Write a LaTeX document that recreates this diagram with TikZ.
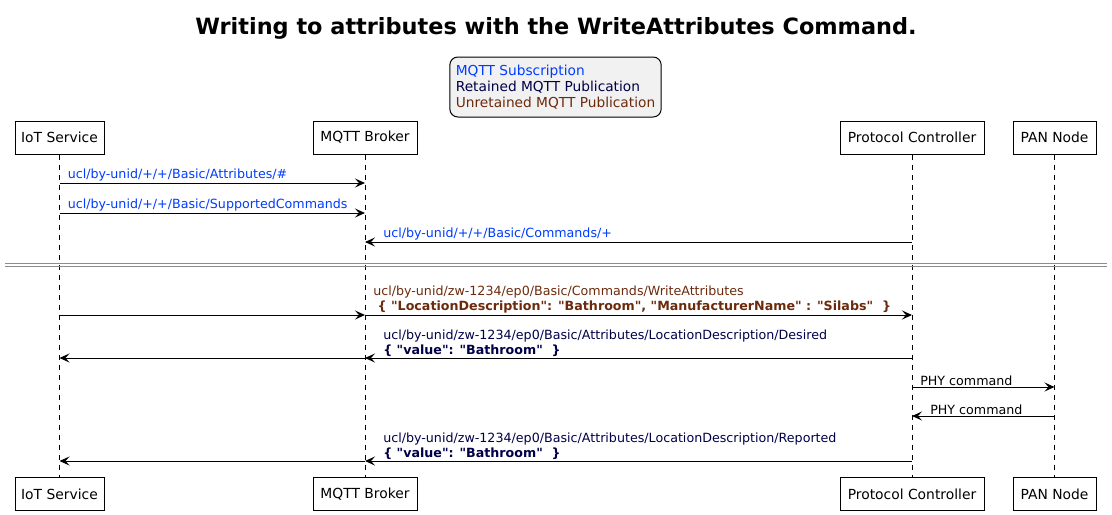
\documentclass[tikz,border=0pt]{standalone}
\usepackage{fontspec}
\setmainfont{DejaVu Sans}
\usetikzlibrary{arrows.meta}

\definecolor{subblue}{RGB}{0,60,255}
\definecolor{retnavy}{RGB}{0,0,72}
\definecolor{unretbrown}{RGB}{108,42,12}
\definecolor{legendfill}{RGB}{241,241,241}
\definecolor{divgray}{RGB}{140,140,140}

\newcommand{\qt}{\textquotedbl}

\begin{document}
\begin{tikzpicture}[x=0.75pt,y=-0.75pt,
    actor/.style={draw,fill=white,line width=0.75pt,minimum height=24.75pt,
      inner sep=0pt,font=\fontsize{10.4}{12}\selectfont},
    life/.style={line width=0.75pt,dash pattern=on 3.75pt off 3.75pt},
    msg/.style={line width=0.75pt,-{Stealth[length=7.5pt,width=6.75pt,inset=3pt]}},
    lbl/.style={anchor=south west,inner sep=0pt,align=left,
      font=\fontsize{9.5}{11}\selectfont}]

  \useasboundingbox (0,0) rectangle (1112,514);

  % -------- TITLE & LEGEND --------
  \node[font=\fontsize{16.8}{20}\selectfont\bfseries] (title) at (556,28)
    {Writing to attributes with the WriteAttributes Command.};
  \node[draw,line width=0.75pt,rounded corners=6pt,fill=legendfill,align=left,
    minimum height=45pt,inner xsep=4.5pt,inner ysep=3pt,
    font=\fontsize{10.3}{12}\selectfont] (legend) at (555.5,87)
    {\textcolor{subblue}{MQTT Subscription}\\
     \textcolor{retnavy}{Retained MQTT Publication}\\
     \textcolor{unretbrown}{Unretained MQTT Publication}};

  % -------- PARTICIPANTS --------
  \def\yTop{137.5}       % centre of top boxes
  \def\yBot{494}         % centre of bottom boxes
  \foreach \n/\x/\w/\t in {iot/59.5/66.75/IoT Service,
                           broker/365/78/MQTT Broker,
                           pc/912/108/Protocol Controller,
                           pan/1054.5/62.25/PAN Node} {
      \node[actor,minimum width=\w pt] (\n) at (\x,\yTop) {\t};
      \node[actor,minimum width=\w pt] (\n B) at (\x,\yBot) {\t};
  }

  % Lifelines
  \foreach \n in {iot,broker,pc,pan} {
      \draw[life] (\n) -- (\n B);
  }

  % -------- SUBSCRIPTIONS --------
  \draw[msg] (iot |- 0,183) -- (broker |- 0,183);
  \node[lbl,text=subblue] (sub1) at ([xshift=6pt]iot |- 0,181.5)
    {ucl/by-unid/+/+/Basic/Attributes/\#};

  \draw[msg] (iot |- 0,213) -- (broker |- 0,213);
  \node[lbl,text=subblue] (sub2) at ([xshift=6pt]iot |- 0,211.5)
    {ucl/by-unid/+/+/Basic/SupportedCommands};

  \draw[msg] (pc |- 0,242) -- (broker |- 0,242);
  \node[lbl,text=subblue] (sub3) at ([xshift=13.5pt]broker |- 0,240.5)
    {ucl/by-unid/+/+/Basic/Commands/+};

  % Divider
  \draw[divgray,line width=0.75pt] (5,263.5) -- (1107,263.5);
  \draw[divgray,line width=0.75pt] (5,266.5) -- (1107,266.5);

  % -------- WRITE ATTRIBUTES --------
  \draw[msg] (iot |- 0,315) -- (broker |- 0,315);
  \draw[msg] (broker |- 0,315) -- (pc |- 0,315);
  \node[lbl,text=unretbrown] (write) at ([xshift=6pt]broker |- 0,313.5)
    {ucl/by-unid/zw-1234/ep0/Basic/Commands/WriteAttributes\\
     \textbf{ \{ \qt LocationDescription\qt: \qt Bathroom\qt, \qt ManufacturerName\qt\ : \qt Silabs\qt\ \ \}}};

  % Desired value
  \draw[msg] (pc |- 0,358) -- (broker |- 0,358);
  \draw[msg] (broker |- 0,358) -- (iot |- 0,358);
  \node[lbl,text=retnavy] (desired) at ([xshift=13.5pt]broker |- 0,356.5)
    {ucl/by-unid/zw-1234/ep0/Basic/Attributes/LocationDescription/Desired\\
     \textbf{\{ \qt value\qt: \qt Bathroom\qt\ \ \}}};

  % PHY exchange
  \draw[msg] (pc |- 0,387) -- (pan |- 0,387);
  \node[lbl] (phy1) at ([xshift=6pt]pc |- 0,385.5) {PHY command};
  \draw[msg] (pan |- 0,416) -- (pc |- 0,416);
  \node[lbl] (phy2) at ([xshift=13.5pt]pc |- 0,414.5) {PHY command};

  % Reported value
  \draw[msg] (pc |- 0,461) -- (broker |- 0,461);
  \draw[msg] (broker |- 0,461) -- (iot |- 0,461);
  \node[lbl,text=retnavy] (reported) at ([xshift=13.5pt]broker |- 0,459.5)
    {ucl/by-unid/zw-1234/ep0/Basic/Attributes/LocationDescription/Reported\\
     \textbf{\{ \qt value\qt: \qt Bathroom\qt\ \ \}}};

\end{tikzpicture}
\end{document}
